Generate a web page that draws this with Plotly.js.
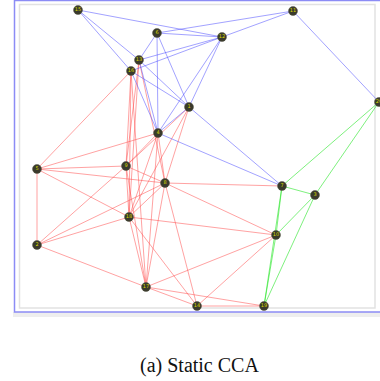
<!DOCTYPE html>
<html>
<head>
<meta charset="utf-8">
<script src="https://cdn.plot.ly/plotly-3.0.1.min.js"></script>
<style>html,body{margin:0;padding:0;background:#fff;}#chart{width:380px;height:381px;}</style>
</head>
<body>
<div id="chart"></div>
<script>
// Node positions (drawing units) and labels
const nodeX = [78,157,222,293,139,131,189,158,379,37,126,165,129,37,146,282,315,276,197,264];
const nodeY = [10,33,37,11,60,71,107,133,102,169,166,183,217,245,287,186,195,235,306,306];
const nodeLabels = ["15","6","12","11","13","16","1","4","20","5","9","8","18","2","17","7","3","10","14","19"];

// Edge lists (pairs of node indices), grouped by cluster colour
const blueEdges = [[0,2],[1,2],[1,3],[2,3],[2,4],[2,5],[2,6],[2,7],[3,8],[0,4],[0,5],[1,4],[1,6],[1,7],[4,7],[5,7],[4,6],[5,6],[6,7],[6,15],[7,15]];
const greenEdges = [[15,8],[16,8],[15,16],[15,17],[15,19],[17,19],[17,16],[16,19]];
const redEdges = [[5,9],[5,10],[5,12],[5,14],[4,10],[4,11],[4,12],
  [7,9],[7,10],[7,11],[7,12],[7,14],[6,10],[6,11],[6,12],
  [9,10],[9,11],[9,12],[9,13],[10,11],[10,12],[10,13],[10,14],
  [11,12],[11,13],[11,14],[11,15],[11,17],[11,18],[12,13],[12,14],[12,17],[12,18],
  [13,14],[14,17],[14,18],[14,19],[18,17],[18,19]];

function edgeTrace(edges, color) {
  const xs = [], ys = [];
  edges.forEach(([a,b]) => { xs.push(nodeX[a], nodeX[b], null); ys.push(nodeY[a], nodeY[b], null); });
  return {type:'scatter', mode:'lines', x:xs, y:ys, line:{color:color, width:1}, hoverinfo:'skip', showlegend:false};
}

const data = [
  edgeTrace(redEdges, 'rgba(255,70,70,0.5)'),
  edgeTrace(blueEdges, 'rgba(70,70,255,0.5)'),
  edgeTrace(greenEdges, 'rgba(40,230,40,0.6)'),
  {type:'scatter', mode:'markers+text', x:nodeX, y:nodeY, text:nodeLabels,
   textposition:'middle center', textfont:{family:'DejaVu Sans', size:5, color:'#d8d800'},
   marker:{symbol:'circle', size:9, color:'#3a3a2c', line:{color:'#555544', width:0.5}},
   hoverinfo:'skip', showlegend:false, cliponaxis:true}
];

const layout = {
  width:380, height:381,
  margin:{l:0,r:0,t:0,b:0},
  paper_bgcolor:'#ffffff', plot_bgcolor:'#ffffff',
  xaxis:{range:[0,380], visible:false, fixedrange:true},
  yaxis:{range:[381,0], visible:false, fixedrange:true},
  showlegend:false,
  shapes:[
    {type:'rect', xref:'x', yref:'y', x0:13, x1:381, y0:312, y1:317, fillcolor:'#eeeeee', line:{width:0}, layer:'below'},
    {type:'rect', xref:'x', yref:'y', x0:14.5, x1:390, y0:0.5, y1:312, fillcolor:'rgba(0,0,0,0)', line:{color:'#8c8cf5', width:1.5}, layer:'below'},
    {type:'rect', xref:'x', yref:'y', x0:19.5, x1:375, y0:4.5, y1:308, fillcolor:'rgba(0,0,0,0)', line:{color:'#e2e2e2', width:1.5}, layer:'below'}
  ],
  annotations:[
    {xref:'x', yref:'y', x:199, y:365, text:'(a) Static CCA', showarrow:false,
     font:{family:'Liberation Serif, Times New Roman, serif', size:20, color:'#111'}}
  ]
};

Plotly.newPlot('chart', data, layout, {staticPlot:true, displayModeBar:false});
</script>
</body>
</html>
